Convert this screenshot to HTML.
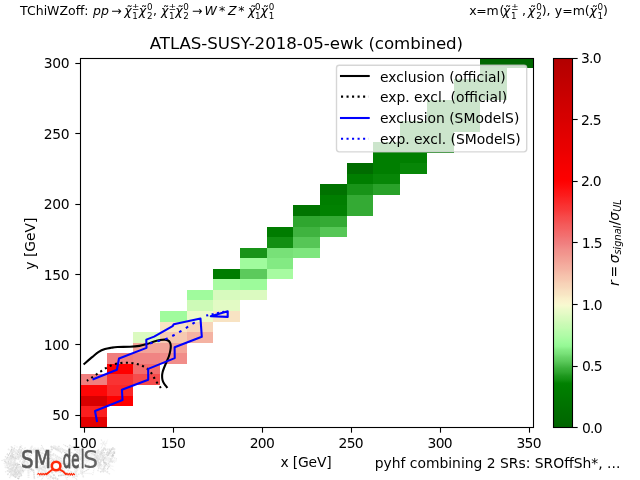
<!DOCTYPE html>
<html lang="en"><head><meta charset="utf-8"><title>ATLAS-SUSY-2018-05-ewk (combined) validation</title>
<style>html,body{margin:0;padding:0;background:#fff;overflow:hidden}svg{display:block}text{font-family:'DejaVu Sans','Liberation Sans',sans-serif;fill:#000}</style></head><body>
<svg width="640" height="480" viewBox="0 0 640 480">
<rect width="640" height="480" fill="#fff"/>
<g id="logo">
<g stroke-linecap="butt" fill="none">
<line x1="49.5" y1="462.2" x2="60.2" y2="462.0" stroke="#cdcdcd" stroke-width="1.3" stroke-dasharray="2.2 0.7"/>
<line x1="70.4" y1="447.5" x2="74.2" y2="447.2" stroke="#eeeeee" stroke-width="1.0" stroke-dasharray="1.9 0.6"/>
<line x1="54.0" y1="467.9" x2="55.8" y2="470.5" stroke="#e0e0e0" stroke-width="1.0" stroke-dasharray="1.1 0.5"/>
<line x1="52.1" y1="455.5" x2="60.1" y2="459.3" stroke="#f4f4f4" stroke-width="1.0" stroke-dasharray="2.0 0.7"/>
<line x1="81.0" y1="451.8" x2="83.9" y2="453.1" stroke="#e0e0e0" stroke-width="1.0" stroke-dasharray="1.6 0.9"/>
<line x1="46.2" y1="475.9" x2="49.2" y2="479.8" stroke="#f1f1f1" stroke-width="2.0" stroke-dasharray="1.6 0.8"/>
<line x1="49.0" y1="461.0" x2="53.7" y2="463.7" stroke="#f1f1f1" stroke-width="1.6" stroke-dasharray="1.5 1.0"/>
<line x1="11.6" y1="473.6" x2="13.4" y2="469.3" stroke="#e0e0e0" stroke-width="1.3" stroke-dasharray="2.5 0.9"/>
<line x1="48.8" y1="455.2" x2="53.7" y2="455.1" stroke="#e7e7e7" stroke-width="1.6" stroke-dasharray="2.5 0.4"/>
<line x1="69.7" y1="464.9" x2="72.4" y2="460.7" stroke="#e7e7e7" stroke-width="1.0" stroke-dasharray="2.2 0.6"/>
<line x1="12.7" y1="462.1" x2="18.7" y2="464.0" stroke="#e0e0e0" stroke-width="2.0" stroke-dasharray="1.2 0.8"/>
<line x1="43.5" y1="461.7" x2="51.9" y2="467.9" stroke="#ececec" stroke-width="1.3" stroke-dasharray="1.2 0.8"/>
<line x1="61.6" y1="466.7" x2="70.0" y2="467.6" stroke="#f4f4f4" stroke-width="1.0" stroke-dasharray="1.2 0.4"/>
<line x1="104.8" y1="449.8" x2="115.2" y2="449.1" stroke="#e0e0e0" stroke-width="2.0" stroke-dasharray="1.4 0.5"/>
<line x1="28.2" y1="463.4" x2="33.1" y2="460.8" stroke="#ececec" stroke-width="1.0" stroke-dasharray="1.1 0.6"/>
<line x1="36.0" y1="463.0" x2="36.9" y2="458.9" stroke="#f4f4f4" stroke-width="1.6" stroke-dasharray="2.0 0.8"/>
<line x1="103.0" y1="471.9" x2="105.6" y2="463.5" stroke="#f4f4f4" stroke-width="1.0" stroke-dasharray="2.1 0.6"/>
<line x1="62.6" y1="474.2" x2="67.3" y2="464.0" stroke="#e7e7e7" stroke-width="1.0" stroke-dasharray="2.0 0.9"/>
<line x1="98.0" y1="460.0" x2="102.2" y2="453.0" stroke="#e0e0e0" stroke-width="2.0" stroke-dasharray="1.6 0.4"/>
<line x1="15.2" y1="450.0" x2="21.7" y2="450.4" stroke="#eeeeee" stroke-width="2.0" stroke-dasharray="1.7 0.9"/>
<line x1="14.3" y1="471.4" x2="15.8" y2="467.9" stroke="#f1f1f1" stroke-width="1.3" stroke-dasharray="2.4 0.5"/>
<line x1="88.7" y1="466.2" x2="91.8" y2="466.0" stroke="#e7e7e7" stroke-width="1.3" stroke-dasharray="2.0 0.5"/>
<line x1="73.1" y1="455.8" x2="81.4" y2="459.2" stroke="#cdcdcd" stroke-width="2.0" stroke-dasharray="2.2 0.9"/>
<line x1="41.1" y1="480.5" x2="46.6" y2="470.3" stroke="#e7e7e7" stroke-width="1.3" stroke-dasharray="1.2 0.7"/>
<line x1="44.4" y1="456.1" x2="50.2" y2="465.0" stroke="#e0e0e0" stroke-width="2.0" stroke-dasharray="1.5 0.9"/>
<line x1="34.2" y1="460.4" x2="37.9" y2="467.6" stroke="#e7e7e7" stroke-width="1.0" stroke-dasharray="2.0 0.6"/>
<line x1="24.6" y1="469.5" x2="28.4" y2="471.3" stroke="#f1f1f1" stroke-width="1.0" stroke-dasharray="1.7 0.8"/>
<line x1="75.4" y1="473.9" x2="78.0" y2="469.9" stroke="#f4f4f4" stroke-width="1.6" stroke-dasharray="1.3 0.4"/>
<line x1="55.7" y1="473.0" x2="58.3" y2="463.4" stroke="#e0e0e0" stroke-width="1.3" stroke-dasharray="1.6 0.9"/>
<line x1="100.4" y1="443.8" x2="107.4" y2="443.1" stroke="#eeeeee" stroke-width="1.0" stroke-dasharray="1.6 0.7"/>
<line x1="107.2" y1="456.5" x2="108.7" y2="460.1" stroke="#eeeeee" stroke-width="1.0" stroke-dasharray="1.3 0.9"/>
<line x1="59.9" y1="468.8" x2="68.0" y2="473.7" stroke="#f1f1f1" stroke-width="1.6" stroke-dasharray="1.8 0.4"/>
<line x1="41.5" y1="455.8" x2="44.4" y2="457.5" stroke="#f1f1f1" stroke-width="2.0" stroke-dasharray="2.2 0.5"/>
<line x1="40.2" y1="476.8" x2="44.2" y2="465.5" stroke="#eeeeee" stroke-width="2.0" stroke-dasharray="2.4 0.7"/>
<line x1="26.6" y1="458.5" x2="33.2" y2="463.1" stroke="#ececec" stroke-width="1.6" stroke-dasharray="1.5 0.6"/>
<line x1="28.5" y1="469.5" x2="28.5" y2="477.7" stroke="#ececec" stroke-width="2.0" stroke-dasharray="1.8 0.7"/>
<line x1="104.7" y1="460.3" x2="116.6" y2="460.5" stroke="#f1f1f1" stroke-width="2.0" stroke-dasharray="1.1 0.5"/>
<line x1="102.9" y1="458.4" x2="110.2" y2="457.9" stroke="#ececec" stroke-width="1.6" stroke-dasharray="1.7 0.9"/>
<line x1="100.3" y1="457.2" x2="106.2" y2="460.5" stroke="#f1f1f1" stroke-width="1.6" stroke-dasharray="1.2 0.9"/>
<line x1="28.5" y1="465.5" x2="32.6" y2="468.8" stroke="#f4f4f4" stroke-width="1.0" stroke-dasharray="1.7 0.7"/>
<line x1="93.2" y1="462.1" x2="102.8" y2="467.2" stroke="#f1f1f1" stroke-width="2.0" stroke-dasharray="1.9 0.9"/>
<line x1="71.3" y1="459.1" x2="73.7" y2="463.4" stroke="#ececec" stroke-width="1.3" stroke-dasharray="1.3 0.8"/>
<line x1="34.5" y1="450.3" x2="45.7" y2="454.5" stroke="#f1f1f1" stroke-width="1.3" stroke-dasharray="2.3 0.5"/>
<line x1="12.1" y1="455.0" x2="18.9" y2="455.6" stroke="#eeeeee" stroke-width="1.3" stroke-dasharray="1.3 0.8"/>
<line x1="64.2" y1="452.3" x2="70.9" y2="455.9" stroke="#cdcdcd" stroke-width="1.3" stroke-dasharray="2.2 0.7"/>
<line x1="5.1" y1="472.1" x2="12.1" y2="468.1" stroke="#ececec" stroke-width="1.3" stroke-dasharray="1.3 0.5"/>
<line x1="104.6" y1="448.1" x2="107.6" y2="439.5" stroke="#f1f1f1" stroke-width="1.0" stroke-dasharray="1.5 0.7"/>
<line x1="58.0" y1="459.3" x2="65.3" y2="454.7" stroke="#f1f1f1" stroke-width="1.3" stroke-dasharray="1.3 0.7"/>
<line x1="84.1" y1="455.1" x2="87.6" y2="456.9" stroke="#f1f1f1" stroke-width="1.6" stroke-dasharray="2.3 0.9"/>
<line x1="80.5" y1="470.3" x2="83.7" y2="477.7" stroke="#ececec" stroke-width="1.6" stroke-dasharray="2.2 0.6"/>
<line x1="103.0" y1="472.4" x2="105.8" y2="466.4" stroke="#e7e7e7" stroke-width="1.6" stroke-dasharray="2.2 0.9"/>
<line x1="48.2" y1="470.9" x2="51.4" y2="466.2" stroke="#f1f1f1" stroke-width="1.0" stroke-dasharray="2.3 1.0"/>
<line x1="34.4" y1="448.5" x2="42.2" y2="448.6" stroke="#f4f4f4" stroke-width="2.0" stroke-dasharray="2.0 0.8"/>
<line x1="5.4" y1="463.1" x2="11.5" y2="465.5" stroke="#f1f1f1" stroke-width="1.3" stroke-dasharray="2.0 0.4"/>
<line x1="30.9" y1="448.7" x2="37.0" y2="453.1" stroke="#e0e0e0" stroke-width="1.0" stroke-dasharray="2.0 0.9"/>
<line x1="12.0" y1="468.9" x2="16.5" y2="458.3" stroke="#f4f4f4" stroke-width="2.0" stroke-dasharray="2.5 0.9"/>
<line x1="61.2" y1="463.1" x2="67.9" y2="464.0" stroke="#e0e0e0" stroke-width="2.0" stroke-dasharray="1.9 0.6"/>
<line x1="37.4" y1="461.4" x2="36.3" y2="470.3" stroke="#eeeeee" stroke-width="1.6" stroke-dasharray="1.0 0.9"/>
<line x1="66.0" y1="464.8" x2="72.5" y2="465.2" stroke="#e7e7e7" stroke-width="2.0" stroke-dasharray="1.1 1.0"/>
<line x1="98.9" y1="457.3" x2="108.7" y2="456.6" stroke="#f1f1f1" stroke-width="1.0" stroke-dasharray="2.4 0.8"/>
<line x1="54.8" y1="477.8" x2="58.4" y2="479.6" stroke="#e0e0e0" stroke-width="2.0" stroke-dasharray="1.7 0.5"/>
<line x1="10.6" y1="462.7" x2="12.6" y2="459.0" stroke="#f4f4f4" stroke-width="2.0" stroke-dasharray="1.9 0.8"/>
<line x1="79.8" y1="452.3" x2="79.5" y2="456.5" stroke="#e7e7e7" stroke-width="1.3" stroke-dasharray="1.4 0.5"/>
<line x1="99.9" y1="472.1" x2="104.9" y2="469.8" stroke="#e0e0e0" stroke-width="1.3" stroke-dasharray="1.9 0.9"/>
<line x1="10.9" y1="450.9" x2="14.2" y2="450.5" stroke="#ececec" stroke-width="1.6" stroke-dasharray="1.1 0.5"/>
<line x1="77.6" y1="458.3" x2="80.4" y2="465.2" stroke="#e7e7e7" stroke-width="1.3" stroke-dasharray="1.5 0.7"/>
<line x1="17.9" y1="478.9" x2="22.9" y2="469.8" stroke="#cdcdcd" stroke-width="2.0" stroke-dasharray="1.6 0.6"/>
<line x1="91.7" y1="450.8" x2="95.2" y2="458.4" stroke="#e7e7e7" stroke-width="1.3" stroke-dasharray="1.6 0.6"/>
<line x1="14.7" y1="477.5" x2="18.2" y2="471.6" stroke="#e0e0e0" stroke-width="2.0" stroke-dasharray="2.2 0.7"/>
<line x1="37.2" y1="477.7" x2="41.8" y2="474.3" stroke="#eeeeee" stroke-width="1.6" stroke-dasharray="1.4 0.5"/>
<line x1="42.4" y1="466.7" x2="46.9" y2="470.6" stroke="#f4f4f4" stroke-width="1.6" stroke-dasharray="1.7 0.9"/>
<line x1="34.2" y1="451.9" x2="43.7" y2="453.2" stroke="#e0e0e0" stroke-width="1.3" stroke-dasharray="1.1 0.9"/>
<line x1="6.6" y1="468.0" x2="10.6" y2="465.5" stroke="#e0e0e0" stroke-width="1.6" stroke-dasharray="2.2 0.7"/>
<line x1="95.5" y1="465.7" x2="97.2" y2="458.8" stroke="#e7e7e7" stroke-width="1.0" stroke-dasharray="1.3 0.4"/>
<line x1="20.8" y1="456.2" x2="25.5" y2="447.1" stroke="#f1f1f1" stroke-width="1.6" stroke-dasharray="2.2 0.5"/>
<line x1="11.0" y1="467.0" x2="18.7" y2="471.2" stroke="#ececec" stroke-width="1.0" stroke-dasharray="2.1 0.8"/>
<line x1="85.6" y1="460.7" x2="91.7" y2="460.5" stroke="#e7e7e7" stroke-width="1.3" stroke-dasharray="1.7 0.7"/>
<line x1="81.8" y1="472.8" x2="85.9" y2="463.2" stroke="#eeeeee" stroke-width="1.6" stroke-dasharray="2.3 0.9"/>
<line x1="109.4" y1="463.7" x2="109.5" y2="466.8" stroke="#f1f1f1" stroke-width="2.0" stroke-dasharray="2.4 0.9"/>
<line x1="71.7" y1="465.3" x2="77.5" y2="468.7" stroke="#e7e7e7" stroke-width="1.6" stroke-dasharray="2.5 0.4"/>
<line x1="73.8" y1="475.0" x2="78.2" y2="466.3" stroke="#f1f1f1" stroke-width="2.0" stroke-dasharray="2.4 0.4"/>
<line x1="14.0" y1="445.4" x2="21.5" y2="449.2" stroke="#f4f4f4" stroke-width="1.3" stroke-dasharray="1.7 0.9"/>
<line x1="44.6" y1="472.9" x2="54.3" y2="479.0" stroke="#e0e0e0" stroke-width="2.0" stroke-dasharray="2.3 0.7"/>
<line x1="46.6" y1="472.7" x2="52.3" y2="482.8" stroke="#f4f4f4" stroke-width="1.3" stroke-dasharray="1.6 0.5"/>
<line x1="20.9" y1="466.6" x2="20.1" y2="476.5" stroke="#f1f1f1" stroke-width="1.3" stroke-dasharray="2.3 0.9"/>
<line x1="100.0" y1="455.8" x2="107.5" y2="459.8" stroke="#ececec" stroke-width="2.0" stroke-dasharray="1.2 0.6"/>
<line x1="33.5" y1="469.5" x2="34.5" y2="479.1" stroke="#e0e0e0" stroke-width="1.6" stroke-dasharray="1.8 0.4"/>
<line x1="63.2" y1="444.4" x2="72.4" y2="449.7" stroke="#ececec" stroke-width="1.0" stroke-dasharray="1.5 0.8"/>
<line x1="58.2" y1="475.7" x2="67.9" y2="474.6" stroke="#cdcdcd" stroke-width="1.6" stroke-dasharray="1.0 0.5"/>
<line x1="22.9" y1="467.3" x2="30.8" y2="466.6" stroke="#e0e0e0" stroke-width="2.0" stroke-dasharray="1.2 0.9"/>
<line x1="36.6" y1="457.4" x2="42.7" y2="447.1" stroke="#eeeeee" stroke-width="1.0" stroke-dasharray="1.5 0.8"/>
<line x1="12.4" y1="455.2" x2="22.4" y2="455.9" stroke="#f1f1f1" stroke-width="2.0" stroke-dasharray="1.0 0.6"/>
<line x1="78.7" y1="452.3" x2="86.7" y2="446.4" stroke="#eeeeee" stroke-width="1.3" stroke-dasharray="2.4 0.5"/>
<line x1="69.9" y1="474.1" x2="77.7" y2="480.0" stroke="#e0e0e0" stroke-width="1.0" stroke-dasharray="1.4 0.5"/>
<line x1="80.9" y1="450.6" x2="89.1" y2="455.5" stroke="#e7e7e7" stroke-width="2.0" stroke-dasharray="2.2 0.5"/>
<line x1="78.8" y1="469.6" x2="79.6" y2="466.4" stroke="#f4f4f4" stroke-width="1.0" stroke-dasharray="1.2 0.4"/>
<line x1="110.2" y1="461.8" x2="115.0" y2="452.5" stroke="#e0e0e0" stroke-width="1.3" stroke-dasharray="2.0 0.9"/>
<line x1="91.5" y1="452.4" x2="97.9" y2="458.1" stroke="#eeeeee" stroke-width="2.0" stroke-dasharray="1.9 0.6"/>
<line x1="109.7" y1="459.5" x2="115.1" y2="462.3" stroke="#eeeeee" stroke-width="2.0" stroke-dasharray="1.2 0.6"/>
<line x1="59.8" y1="473.0" x2="62.2" y2="469.3" stroke="#e0e0e0" stroke-width="1.6" stroke-dasharray="1.8 0.6"/>
<line x1="60.3" y1="467.5" x2="63.2" y2="469.0" stroke="#eeeeee" stroke-width="1.3" stroke-dasharray="2.2 0.5"/>
<line x1="52.8" y1="453.5" x2="62.4" y2="459.5" stroke="#e7e7e7" stroke-width="1.6" stroke-dasharray="1.7 0.5"/>
<line x1="103.0" y1="455.9" x2="104.3" y2="467.0" stroke="#ececec" stroke-width="1.6" stroke-dasharray="1.9 0.5"/>
<line x1="101.0" y1="450.7" x2="104.8" y2="448.3" stroke="#e0e0e0" stroke-width="1.0" stroke-dasharray="1.7 0.6"/>
<line x1="83.3" y1="473.3" x2="92.0" y2="473.6" stroke="#f1f1f1" stroke-width="1.3" stroke-dasharray="1.3 0.7"/>
<line x1="18.9" y1="456.8" x2="24.0" y2="453.7" stroke="#ececec" stroke-width="1.6" stroke-dasharray="1.4 1.0"/>
<line x1="10.4" y1="468.0" x2="13.2" y2="474.0" stroke="#f4f4f4" stroke-width="1.0" stroke-dasharray="1.7 0.6"/>
<line x1="69.7" y1="467.0" x2="77.0" y2="467.5" stroke="#f4f4f4" stroke-width="2.0" stroke-dasharray="2.2 0.5"/>
<line x1="38.8" y1="460.2" x2="44.6" y2="460.9" stroke="#f1f1f1" stroke-width="1.6" stroke-dasharray="2.1 0.9"/>
<line x1="80.7" y1="460.4" x2="89.5" y2="466.8" stroke="#ececec" stroke-width="1.0" stroke-dasharray="2.3 0.5"/>
<line x1="102.9" y1="459.3" x2="105.6" y2="463.7" stroke="#cdcdcd" stroke-width="1.6" stroke-dasharray="2.3 0.7"/>
<line x1="84.6" y1="467.0" x2="88.7" y2="457.7" stroke="#f1f1f1" stroke-width="2.0" stroke-dasharray="1.0 0.5"/>
<line x1="36.6" y1="455.9" x2="40.0" y2="449.7" stroke="#e0e0e0" stroke-width="2.0" stroke-dasharray="1.2 0.8"/>
<line x1="28.1" y1="451.8" x2="33.8" y2="452.4" stroke="#f4f4f4" stroke-width="1.3" stroke-dasharray="2.4 1.0"/>
<line x1="53.3" y1="445.5" x2="60.8" y2="450.9" stroke="#f1f1f1" stroke-width="1.3" stroke-dasharray="1.5 0.9"/>
<line x1="74.3" y1="463.2" x2="75.0" y2="471.9" stroke="#ececec" stroke-width="1.0" stroke-dasharray="2.0 0.6"/>
<line x1="33.8" y1="462.1" x2="37.3" y2="451.1" stroke="#f4f4f4" stroke-width="2.0" stroke-dasharray="1.1 0.5"/>
<line x1="34.8" y1="466.3" x2="43.6" y2="469.8" stroke="#e0e0e0" stroke-width="1.6" stroke-dasharray="2.2 0.6"/>
<line x1="72.4" y1="477.9" x2="82.6" y2="472.0" stroke="#ececec" stroke-width="1.3" stroke-dasharray="1.4 0.8"/>
<line x1="53.7" y1="459.3" x2="53.4" y2="462.4" stroke="#e0e0e0" stroke-width="1.6" stroke-dasharray="1.8 0.7"/>
<line x1="64.8" y1="445.5" x2="70.0" y2="447.5" stroke="#e0e0e0" stroke-width="1.0" stroke-dasharray="1.3 0.9"/>
<line x1="50.4" y1="470.4" x2="61.3" y2="468.9" stroke="#f1f1f1" stroke-width="1.3" stroke-dasharray="1.1 0.9"/>
<line x1="100.4" y1="452.4" x2="108.1" y2="453.0" stroke="#e0e0e0" stroke-width="1.3" stroke-dasharray="1.9 0.9"/>
<line x1="15.5" y1="452.9" x2="20.7" y2="461.5" stroke="#eeeeee" stroke-width="1.3" stroke-dasharray="1.4 0.7"/>
<line x1="94.2" y1="462.2" x2="101.9" y2="465.4" stroke="#eeeeee" stroke-width="1.0" stroke-dasharray="1.9 0.9"/>
<line x1="3.2" y1="459.6" x2="12.7" y2="459.6" stroke="#f1f1f1" stroke-width="1.0" stroke-dasharray="1.2 0.5"/>
<line x1="73.6" y1="462.1" x2="76.7" y2="463.7" stroke="#f4f4f4" stroke-width="1.0" stroke-dasharray="2.0 0.9"/>
<line x1="81.9" y1="473.1" x2="89.6" y2="468.6" stroke="#e0e0e0" stroke-width="1.3" stroke-dasharray="1.6 0.5"/>
<line x1="58.1" y1="466.8" x2="61.3" y2="465.3" stroke="#f4f4f4" stroke-width="2.0" stroke-dasharray="1.5 0.5"/>
<line x1="58.0" y1="473.5" x2="59.7" y2="466.6" stroke="#eeeeee" stroke-width="1.0" stroke-dasharray="1.0 0.6"/>
<line x1="63.3" y1="462.3" x2="68.8" y2="455.0" stroke="#eeeeee" stroke-width="1.3" stroke-dasharray="1.4 0.5"/>
<line x1="96.5" y1="459.0" x2="100.3" y2="454.0" stroke="#e7e7e7" stroke-width="1.3" stroke-dasharray="1.1 0.6"/>
<line x1="41.0" y1="468.3" x2="45.2" y2="466.5" stroke="#cdcdcd" stroke-width="1.3" stroke-dasharray="1.6 0.9"/>
<line x1="27.1" y1="458.4" x2="31.4" y2="449.1" stroke="#f4f4f4" stroke-width="1.3" stroke-dasharray="1.6 0.8"/>
<line x1="83.5" y1="458.0" x2="92.5" y2="459.3" stroke="#f4f4f4" stroke-width="1.3" stroke-dasharray="1.8 0.7"/>
<line x1="7.8" y1="448.9" x2="14.3" y2="453.0" stroke="#eeeeee" stroke-width="1.6" stroke-dasharray="1.8 0.7"/>
<line x1="75.1" y1="450.5" x2="77.2" y2="446.7" stroke="#e7e7e7" stroke-width="1.3" stroke-dasharray="2.1 0.8"/>
<line x1="38.9" y1="457.8" x2="42.7" y2="452.6" stroke="#e7e7e7" stroke-width="1.0" stroke-dasharray="1.5 0.8"/>
<line x1="58.8" y1="445.8" x2="58.7" y2="449.1" stroke="#e7e7e7" stroke-width="2.0" stroke-dasharray="1.6 0.7"/>
<line x1="17.5" y1="466.3" x2="23.8" y2="469.5" stroke="#f4f4f4" stroke-width="1.3" stroke-dasharray="2.3 0.9"/>
<line x1="62.1" y1="462.9" x2="65.5" y2="452.6" stroke="#ececec" stroke-width="1.0" stroke-dasharray="1.4 0.6"/>
<line x1="4.8" y1="467.9" x2="12.5" y2="461.9" stroke="#eeeeee" stroke-width="1.6" stroke-dasharray="2.0 0.4"/>
<line x1="93.5" y1="458.5" x2="102.7" y2="465.6" stroke="#e7e7e7" stroke-width="1.3" stroke-dasharray="2.2 0.6"/>
<line x1="55.3" y1="456.9" x2="63.2" y2="461.8" stroke="#ececec" stroke-width="1.3" stroke-dasharray="2.4 0.5"/>
<line x1="84.6" y1="451.8" x2="93.4" y2="455.9" stroke="#f4f4f4" stroke-width="1.3" stroke-dasharray="1.7 0.6"/>
<line x1="97.1" y1="453.9" x2="99.2" y2="450.4" stroke="#f1f1f1" stroke-width="2.0" stroke-dasharray="1.4 0.6"/>
<line x1="96.1" y1="450.6" x2="98.8" y2="453.1" stroke="#f1f1f1" stroke-width="1.6" stroke-dasharray="1.5 0.6"/>
<line x1="36.9" y1="475.2" x2="39.3" y2="469.2" stroke="#e7e7e7" stroke-width="1.6" stroke-dasharray="1.0 0.8"/>
<line x1="8.8" y1="462.9" x2="13.5" y2="460.0" stroke="#f4f4f4" stroke-width="2.0" stroke-dasharray="1.6 0.9"/>
<line x1="59.5" y1="451.3" x2="62.1" y2="453.1" stroke="#e0e0e0" stroke-width="1.3" stroke-dasharray="1.4 0.6"/>
<line x1="30.0" y1="459.1" x2="29.6" y2="462.1" stroke="#e0e0e0" stroke-width="2.0" stroke-dasharray="2.3 0.9"/>
<line x1="12.9" y1="471.5" x2="16.2" y2="473.5" stroke="#f1f1f1" stroke-width="1.6" stroke-dasharray="2.2 0.5"/>
<line x1="39.2" y1="469.1" x2="44.8" y2="465.4" stroke="#e7e7e7" stroke-width="2.0" stroke-dasharray="1.4 0.5"/>
<line x1="14.8" y1="470.9" x2="19.3" y2="464.7" stroke="#eeeeee" stroke-width="2.0" stroke-dasharray="1.1 0.8"/>
<line x1="47.3" y1="457.1" x2="53.8" y2="461.0" stroke="#cdcdcd" stroke-width="2.0" stroke-dasharray="1.4 0.8"/>
<line x1="44.2" y1="471.7" x2="47.2" y2="462.3" stroke="#e0e0e0" stroke-width="1.3" stroke-dasharray="1.9 0.7"/>
<line x1="80.7" y1="463.4" x2="84.0" y2="465.8" stroke="#f4f4f4" stroke-width="1.6" stroke-dasharray="1.3 0.5"/>
<line x1="6.7" y1="465.7" x2="8.2" y2="460.5" stroke="#e7e7e7" stroke-width="2.0" stroke-dasharray="1.6 0.8"/>
<line x1="27.2" y1="452.1" x2="26.7" y2="456.1" stroke="#e7e7e7" stroke-width="1.0" stroke-dasharray="2.2 0.9"/>
<line x1="51.6" y1="471.6" x2="55.2" y2="477.1" stroke="#e0e0e0" stroke-width="2.0" stroke-dasharray="2.1 1.0"/>
<line x1="47.7" y1="462.0" x2="48.4" y2="472.8" stroke="#f4f4f4" stroke-width="1.3" stroke-dasharray="2.3 0.7"/>
<line x1="98.0" y1="453.2" x2="105.0" y2="448.2" stroke="#e7e7e7" stroke-width="1.6" stroke-dasharray="1.3 0.7"/>
<line x1="45.0" y1="451.7" x2="46.0" y2="448.8" stroke="#e7e7e7" stroke-width="1.0" stroke-dasharray="1.0 0.6"/>
<line x1="17.7" y1="471.2" x2="24.5" y2="471.2" stroke="#e0e0e0" stroke-width="2.0" stroke-dasharray="1.8 0.5"/>
<line x1="67.5" y1="470.1" x2="77.7" y2="475.2" stroke="#ececec" stroke-width="2.0" stroke-dasharray="1.9 1.0"/>
<line x1="9.5" y1="478.1" x2="12.7" y2="469.6" stroke="#e7e7e7" stroke-width="1.6" stroke-dasharray="1.0 0.7"/>
<line x1="9.8" y1="457.4" x2="15.8" y2="459.4" stroke="#e0e0e0" stroke-width="1.6" stroke-dasharray="2.2 0.9"/>
<line x1="85.9" y1="450.8" x2="85.0" y2="460.7" stroke="#f1f1f1" stroke-width="2.0" stroke-dasharray="1.6 0.8"/>
<line x1="4.1" y1="461.0" x2="12.9" y2="464.6" stroke="#e0e0e0" stroke-width="1.6" stroke-dasharray="2.2 0.6"/>
<line x1="70.8" y1="452.2" x2="79.0" y2="455.7" stroke="#e0e0e0" stroke-width="1.0" stroke-dasharray="1.4 0.5"/>
<line x1="18.3" y1="451.4" x2="22.0" y2="452.7" stroke="#ececec" stroke-width="1.6" stroke-dasharray="1.5 0.7"/>
<line x1="1.3" y1="460.5" x2="12.8" y2="459.2" stroke="#ececec" stroke-width="1.0" stroke-dasharray="2.3 0.6"/>
<line x1="108.1" y1="454.9" x2="117.2" y2="459.1" stroke="#ececec" stroke-width="1.6" stroke-dasharray="1.1 0.6"/>
<line x1="88.5" y1="464.9" x2="91.4" y2="456.6" stroke="#f4f4f4" stroke-width="1.0" stroke-dasharray="1.3 0.8"/>
<line x1="72.0" y1="460.7" x2="75.8" y2="459.1" stroke="#eeeeee" stroke-width="2.0" stroke-dasharray="1.7 0.7"/>
<line x1="92.3" y1="459.7" x2="100.4" y2="459.9" stroke="#e0e0e0" stroke-width="1.0" stroke-dasharray="1.8 0.7"/>
<line x1="11.8" y1="446.9" x2="11.9" y2="458.8" stroke="#cdcdcd" stroke-width="1.6" stroke-dasharray="1.3 0.7"/>
<line x1="101.0" y1="448.4" x2="104.8" y2="440.4" stroke="#ececec" stroke-width="1.0" stroke-dasharray="2.2 0.7"/>
<line x1="97.3" y1="466.6" x2="102.6" y2="469.7" stroke="#ececec" stroke-width="1.0" stroke-dasharray="2.3 0.5"/>
<line x1="34.8" y1="468.6" x2="37.6" y2="462.2" stroke="#f4f4f4" stroke-width="1.3" stroke-dasharray="1.1 0.7"/>
<line x1="10.8" y1="476.2" x2="13.3" y2="472.6" stroke="#e7e7e7" stroke-width="1.3" stroke-dasharray="1.2 0.4"/>
<line x1="41.2" y1="473.2" x2="45.5" y2="475.1" stroke="#f4f4f4" stroke-width="1.0" stroke-dasharray="2.3 0.8"/>
<line x1="100.9" y1="439.3" x2="105.9" y2="446.4" stroke="#eeeeee" stroke-width="1.3" stroke-dasharray="1.8 1.0"/>
<line x1="42.5" y1="468.5" x2="51.2" y2="476.0" stroke="#eeeeee" stroke-width="1.3" stroke-dasharray="2.0 0.5"/>
<line x1="17.1" y1="467.8" x2="22.6" y2="467.1" stroke="#e7e7e7" stroke-width="1.6" stroke-dasharray="1.9 0.6"/>
<line x1="76.9" y1="465.8" x2="84.4" y2="472.3" stroke="#ececec" stroke-width="1.3" stroke-dasharray="1.1 0.6"/>
<line x1="43.2" y1="462.4" x2="49.8" y2="466.1" stroke="#f1f1f1" stroke-width="1.6" stroke-dasharray="1.8 0.7"/>
<line x1="17.4" y1="477.6" x2="21.2" y2="471.7" stroke="#f4f4f4" stroke-width="2.0" stroke-dasharray="1.3 0.6"/>
<line x1="27.5" y1="463.7" x2="32.1" y2="466.8" stroke="#f4f4f4" stroke-width="1.6" stroke-dasharray="1.4 0.8"/>
<line x1="74.4" y1="449.8" x2="82.8" y2="449.5" stroke="#e7e7e7" stroke-width="2.0" stroke-dasharray="1.6 0.6"/>
<line x1="68.6" y1="463.7" x2="71.0" y2="459.4" stroke="#e7e7e7" stroke-width="1.0" stroke-dasharray="1.6 0.8"/>
<line x1="77.2" y1="455.5" x2="79.3" y2="451.6" stroke="#f1f1f1" stroke-width="1.6" stroke-dasharray="1.3 0.7"/>
<line x1="54.6" y1="470.7" x2="61.0" y2="460.8" stroke="#f4f4f4" stroke-width="2.0" stroke-dasharray="2.2 0.8"/>
<line x1="7.5" y1="457.8" x2="18.9" y2="458.7" stroke="#e0e0e0" stroke-width="1.3" stroke-dasharray="1.7 0.9"/>
<line x1="104.6" y1="464.3" x2="114.4" y2="470.6" stroke="#f4f4f4" stroke-width="1.0" stroke-dasharray="1.6 0.5"/>
<line x1="45.0" y1="457.6" x2="47.1" y2="451.3" stroke="#e0e0e0" stroke-width="1.0" stroke-dasharray="2.2 0.5"/>
<line x1="11.0" y1="446.3" x2="15.6" y2="452.5" stroke="#e7e7e7" stroke-width="1.6" stroke-dasharray="2.2 0.5"/>
<line x1="29.3" y1="455.7" x2="29.7" y2="459.9" stroke="#f1f1f1" stroke-width="1.3" stroke-dasharray="1.2 0.7"/>
<line x1="24.0" y1="465.8" x2="25.5" y2="463.1" stroke="#cdcdcd" stroke-width="1.0" stroke-dasharray="2.1 0.8"/>
<line x1="21.4" y1="464.4" x2="24.4" y2="457.6" stroke="#e0e0e0" stroke-width="1.0" stroke-dasharray="1.6 0.6"/>
<line x1="28.0" y1="458.5" x2="30.4" y2="463.9" stroke="#f4f4f4" stroke-width="1.3" stroke-dasharray="2.0 0.9"/>
<line x1="108.4" y1="460.5" x2="108.0" y2="464.4" stroke="#eeeeee" stroke-width="1.6" stroke-dasharray="1.4 0.8"/>
<line x1="89.7" y1="452.2" x2="93.3" y2="458.2" stroke="#f1f1f1" stroke-width="1.6" stroke-dasharray="2.3 0.4"/>
<line x1="58.5" y1="461.2" x2="67.5" y2="462.0" stroke="#eeeeee" stroke-width="1.6" stroke-dasharray="1.0 0.6"/>
<line x1="108.7" y1="459.0" x2="108.7" y2="462.1" stroke="#f4f4f4" stroke-width="1.0" stroke-dasharray="1.0 0.8"/>
<line x1="105.1" y1="456.8" x2="114.5" y2="452.1" stroke="#ececec" stroke-width="1.0" stroke-dasharray="1.5 0.7"/>
<line x1="60.5" y1="471.9" x2="63.0" y2="467.7" stroke="#e0e0e0" stroke-width="1.6" stroke-dasharray="2.2 1.0"/>
<line x1="73.9" y1="458.8" x2="77.9" y2="450.7" stroke="#f1f1f1" stroke-width="2.0" stroke-dasharray="2.5 0.9"/>
<line x1="39.6" y1="456.5" x2="43.3" y2="448.5" stroke="#f1f1f1" stroke-width="2.0" stroke-dasharray="1.1 0.8"/>
<line x1="63.7" y1="472.8" x2="67.5" y2="480.5" stroke="#eeeeee" stroke-width="1.3" stroke-dasharray="1.9 0.4"/>
<line x1="83.0" y1="451.6" x2="88.2" y2="461.5" stroke="#f1f1f1" stroke-width="1.3" stroke-dasharray="2.2 0.7"/>
<line x1="82.1" y1="454.7" x2="92.3" y2="455.2" stroke="#f4f4f4" stroke-width="1.6" stroke-dasharray="2.3 0.8"/>
<line x1="42.6" y1="475.6" x2="46.2" y2="470.1" stroke="#eeeeee" stroke-width="1.0" stroke-dasharray="2.4 0.5"/>
<line x1="49.7" y1="463.7" x2="51.9" y2="458.7" stroke="#f4f4f4" stroke-width="1.0" stroke-dasharray="2.3 1.0"/>
<line x1="23.0" y1="467.8" x2="32.2" y2="467.8" stroke="#f4f4f4" stroke-width="2.0" stroke-dasharray="1.2 0.8"/>
<line x1="19.0" y1="461.6" x2="29.0" y2="464.7" stroke="#eeeeee" stroke-width="1.6" stroke-dasharray="1.6 0.9"/>
<line x1="77.0" y1="459.2" x2="82.7" y2="456.6" stroke="#e0e0e0" stroke-width="1.3" stroke-dasharray="1.7 1.0"/>
<line x1="38.7" y1="466.1" x2="44.2" y2="469.0" stroke="#f4f4f4" stroke-width="1.0" stroke-dasharray="1.4 0.4"/>
<line x1="91.2" y1="453.2" x2="99.0" y2="456.6" stroke="#e0e0e0" stroke-width="1.3" stroke-dasharray="2.5 0.9"/>
<line x1="51.2" y1="457.8" x2="59.3" y2="460.7" stroke="#eeeeee" stroke-width="1.6" stroke-dasharray="1.8 0.5"/>
<line x1="112.2" y1="456.7" x2="114.4" y2="451.1" stroke="#cdcdcd" stroke-width="2.0" stroke-dasharray="2.4 0.9"/>
<line x1="25.6" y1="462.3" x2="29.4" y2="459.9" stroke="#ececec" stroke-width="1.3" stroke-dasharray="2.3 1.0"/>
<line x1="76.0" y1="451.6" x2="84.9" y2="457.1" stroke="#e7e7e7" stroke-width="1.0" stroke-dasharray="1.4 0.4"/>
<line x1="60.4" y1="448.2" x2="67.6" y2="451.8" stroke="#e7e7e7" stroke-width="2.0" stroke-dasharray="1.1 0.4"/>
<line x1="22.9" y1="451.2" x2="22.0" y2="459.6" stroke="#e0e0e0" stroke-width="1.3" stroke-dasharray="1.8 0.8"/>
<line x1="102.2" y1="469.1" x2="108.3" y2="472.2" stroke="#e7e7e7" stroke-width="1.3" stroke-dasharray="1.7 0.8"/>
<line x1="41.3" y1="445.0" x2="45.3" y2="452.0" stroke="#e7e7e7" stroke-width="1.3" stroke-dasharray="1.1 0.7"/>
<line x1="67.4" y1="478.0" x2="68.8" y2="475.3" stroke="#e0e0e0" stroke-width="1.0" stroke-dasharray="1.3 0.6"/>
<line x1="107.6" y1="470.2" x2="109.4" y2="462.3" stroke="#eeeeee" stroke-width="1.0" stroke-dasharray="1.7 0.8"/>
<line x1="13.2" y1="468.6" x2="17.4" y2="466.2" stroke="#eeeeee" stroke-width="1.0" stroke-dasharray="1.6 0.7"/>
<line x1="15.2" y1="453.7" x2="13.8" y2="464.7" stroke="#f1f1f1" stroke-width="1.3" stroke-dasharray="2.3 0.6"/>
<line x1="27.0" y1="455.9" x2="32.4" y2="445.6" stroke="#ececec" stroke-width="2.0" stroke-dasharray="2.4 0.4"/>
<line x1="56.2" y1="458.5" x2="61.6" y2="468.2" stroke="#e7e7e7" stroke-width="1.3" stroke-dasharray="1.1 0.7"/>
<line x1="17.2" y1="476.3" x2="18.9" y2="472.3" stroke="#ececec" stroke-width="1.0" stroke-dasharray="1.0 0.4"/>
<line x1="93.2" y1="454.4" x2="98.8" y2="457.8" stroke="#ececec" stroke-width="1.6" stroke-dasharray="1.1 0.6"/>
<line x1="82.0" y1="459.1" x2="86.2" y2="462.0" stroke="#f4f4f4" stroke-width="1.3" stroke-dasharray="1.3 0.5"/>
<line x1="50.8" y1="446.5" x2="58.7" y2="451.0" stroke="#e0e0e0" stroke-width="1.6" stroke-dasharray="1.9 0.7"/>
<line x1="56.6" y1="466.8" x2="65.5" y2="471.6" stroke="#e0e0e0" stroke-width="1.0" stroke-dasharray="1.1 0.9"/>
<line x1="44.1" y1="456.6" x2="48.0" y2="451.5" stroke="#ececec" stroke-width="2.0" stroke-dasharray="2.2 0.9"/>
<line x1="38.5" y1="470.8" x2="46.5" y2="471.7" stroke="#eeeeee" stroke-width="1.0" stroke-dasharray="1.7 0.9"/>
<line x1="4.1" y1="459.3" x2="10.9" y2="460.1" stroke="#ececec" stroke-width="1.3" stroke-dasharray="1.1 0.5"/>
<line x1="54.4" y1="445.9" x2="64.0" y2="452.0" stroke="#ececec" stroke-width="1.6" stroke-dasharray="2.4 0.5"/>
<line x1="19.0" y1="464.1" x2="22.3" y2="469.5" stroke="#cdcdcd" stroke-width="1.6" stroke-dasharray="1.2 0.9"/>
<line x1="37.3" y1="461.0" x2="44.1" y2="465.0" stroke="#e0e0e0" stroke-width="2.0" stroke-dasharray="2.1 0.7"/>
<line x1="38.3" y1="468.1" x2="40.5" y2="472.0" stroke="#e7e7e7" stroke-width="1.0" stroke-dasharray="1.4 0.9"/>
<line x1="107.6" y1="459.5" x2="114.5" y2="456.8" stroke="#f1f1f1" stroke-width="1.3" stroke-dasharray="1.2 0.7"/>
<line x1="77.8" y1="458.2" x2="80.8" y2="456.4" stroke="#ececec" stroke-width="1.0" stroke-dasharray="1.3 0.8"/>
<line x1="27.9" y1="471.5" x2="31.5" y2="471.6" stroke="#f1f1f1" stroke-width="1.3" stroke-dasharray="1.5 0.5"/>
<line x1="106.9" y1="455.5" x2="115.0" y2="451.1" stroke="#e7e7e7" stroke-width="1.6" stroke-dasharray="1.2 0.5"/>
<line x1="65.0" y1="464.1" x2="72.1" y2="464.2" stroke="#e7e7e7" stroke-width="2.0" stroke-dasharray="1.4 1.0"/>
<line x1="18.8" y1="456.9" x2="28.3" y2="463.3" stroke="#e7e7e7" stroke-width="1.3" stroke-dasharray="1.8 0.6"/>
<line x1="79.1" y1="449.7" x2="84.6" y2="457.1" stroke="#e7e7e7" stroke-width="2.0" stroke-dasharray="1.8 0.7"/>
<line x1="101.2" y1="460.1" x2="110.1" y2="460.5" stroke="#f4f4f4" stroke-width="1.6" stroke-dasharray="1.7 0.9"/>
<line x1="37.8" y1="470.5" x2="43.2" y2="460.0" stroke="#e7e7e7" stroke-width="2.0" stroke-dasharray="1.1 0.6"/>
<line x1="8.8" y1="462.8" x2="14.1" y2="463.3" stroke="#eeeeee" stroke-width="1.0" stroke-dasharray="1.6 0.7"/>
<line x1="105.2" y1="459.6" x2="111.1" y2="459.1" stroke="#eeeeee" stroke-width="1.6" stroke-dasharray="2.4 0.8"/>
<line x1="76.0" y1="454.2" x2="84.9" y2="461.1" stroke="#eeeeee" stroke-width="1.3" stroke-dasharray="2.2 0.8"/>
<line x1="92.6" y1="475.2" x2="94.3" y2="468.1" stroke="#eeeeee" stroke-width="1.3" stroke-dasharray="1.1 0.9"/>
<line x1="105.0" y1="465.6" x2="113.5" y2="466.3" stroke="#f4f4f4" stroke-width="1.0" stroke-dasharray="2.5 0.5"/>
<line x1="31.7" y1="451.5" x2="36.4" y2="451.3" stroke="#eeeeee" stroke-width="1.6" stroke-dasharray="2.5 0.8"/>
<line x1="18.2" y1="471.8" x2="20.9" y2="465.7" stroke="#f4f4f4" stroke-width="1.0" stroke-dasharray="1.9 1.0"/>
<line x1="73.4" y1="459.3" x2="76.7" y2="459.5" stroke="#ececec" stroke-width="2.0" stroke-dasharray="2.2 0.5"/>
<line x1="75.6" y1="473.4" x2="77.6" y2="467.9" stroke="#e7e7e7" stroke-width="1.3" stroke-dasharray="1.0 0.6"/>
<line x1="3.7" y1="463.8" x2="14.0" y2="458.3" stroke="#f1f1f1" stroke-width="1.6" stroke-dasharray="1.2 0.5"/>
<line x1="14.4" y1="472.3" x2="18.5" y2="463.4" stroke="#cdcdcd" stroke-width="1.6" stroke-dasharray="1.3 0.7"/>
<line x1="29.4" y1="458.1" x2="34.7" y2="447.8" stroke="#e7e7e7" stroke-width="2.0" stroke-dasharray="1.3 1.0"/>
<line x1="9.6" y1="456.7" x2="19.5" y2="457.2" stroke="#e0e0e0" stroke-width="1.6" stroke-dasharray="1.9 0.7"/>
<line x1="69.0" y1="444.9" x2="75.8" y2="449.6" stroke="#e7e7e7" stroke-width="1.6" stroke-dasharray="2.2 0.8"/>
<line x1="76.5" y1="457.3" x2="88.0" y2="458.8" stroke="#ececec" stroke-width="1.6" stroke-dasharray="2.3 0.4"/>
<line x1="11.9" y1="451.7" x2="15.5" y2="449.6" stroke="#f4f4f4" stroke-width="2.0" stroke-dasharray="1.9 0.8"/>
<line x1="48.2" y1="462.6" x2="50.9" y2="468.7" stroke="#f1f1f1" stroke-width="1.3" stroke-dasharray="1.4 0.7"/>
<line x1="45.2" y1="454.9" x2="53.8" y2="455.4" stroke="#ececec" stroke-width="1.3" stroke-dasharray="2.3 0.7"/>
<line x1="67.8" y1="450.1" x2="71.2" y2="454.8" stroke="#ececec" stroke-width="2.0" stroke-dasharray="2.1 0.9"/>
<line x1="12.8" y1="449.2" x2="19.2" y2="451.9" stroke="#f4f4f4" stroke-width="2.0" stroke-dasharray="1.5 0.8"/>
<line x1="48.6" y1="455.2" x2="52.2" y2="448.8" stroke="#e0e0e0" stroke-width="2.0" stroke-dasharray="2.0 0.8"/>
<line x1="58.7" y1="471.4" x2="62.3" y2="471.8" stroke="#ececec" stroke-width="1.6" stroke-dasharray="1.3 0.8"/>
<line x1="50.6" y1="446.3" x2="59.6" y2="450.5" stroke="#e0e0e0" stroke-width="1.6" stroke-dasharray="1.8 0.6"/>
<line x1="92.5" y1="453.9" x2="101.0" y2="453.3" stroke="#ececec" stroke-width="2.0" stroke-dasharray="1.4 1.0"/>
<line x1="81.5" y1="457.0" x2="91.9" y2="457.2" stroke="#eeeeee" stroke-width="2.0" stroke-dasharray="1.1 1.0"/>
<line x1="80.8" y1="451.9" x2="85.1" y2="455.0" stroke="#eeeeee" stroke-width="2.0" stroke-dasharray="1.8 1.0"/>
<line x1="17.8" y1="468.4" x2="23.6" y2="473.3" stroke="#f1f1f1" stroke-width="1.6" stroke-dasharray="2.1 0.6"/>
<line x1="107.4" y1="449.6" x2="110.5" y2="456.3" stroke="#f4f4f4" stroke-width="1.6" stroke-dasharray="2.4 1.0"/>
<line x1="11.8" y1="454.3" x2="10.7" y2="462.3" stroke="#e7e7e7" stroke-width="1.6" stroke-dasharray="1.6 0.4"/>
<line x1="4.9" y1="466.4" x2="9.0" y2="456.8" stroke="#f4f4f4" stroke-width="1.6" stroke-dasharray="1.2 0.7"/>
<line x1="59.3" y1="461.2" x2="63.6" y2="461.4" stroke="#e7e7e7" stroke-width="1.3" stroke-dasharray="1.3 0.4"/>
<line x1="103.0" y1="467.5" x2="105.6" y2="462.8" stroke="#f4f4f4" stroke-width="1.0" stroke-dasharray="2.0 0.4"/>
<line x1="24.2" y1="464.9" x2="33.4" y2="470.7" stroke="#cdcdcd" stroke-width="2.0" stroke-dasharray="2.1 0.4"/>
<line x1="100.0" y1="468.0" x2="110.1" y2="474.3" stroke="#ececec" stroke-width="1.3" stroke-dasharray="1.9 0.6"/>
<line x1="73.6" y1="476.2" x2="78.2" y2="476.7" stroke="#ececec" stroke-width="1.3" stroke-dasharray="1.7 0.8"/>
<line x1="41.7" y1="468.8" x2="45.5" y2="472.1" stroke="#e7e7e7" stroke-width="1.0" stroke-dasharray="1.3 0.8"/>
<line x1="8.5" y1="471.2" x2="13.7" y2="463.7" stroke="#e0e0e0" stroke-width="1.0" stroke-dasharray="1.1 0.4"/>
<line x1="68.9" y1="476.8" x2="72.7" y2="471.3" stroke="#eeeeee" stroke-width="1.3" stroke-dasharray="1.8 0.4"/>
<line x1="21.3" y1="469.4" x2="23.7" y2="464.3" stroke="#e0e0e0" stroke-width="1.0" stroke-dasharray="1.5 0.6"/>
<line x1="30.0" y1="450.4" x2="35.8" y2="452.7" stroke="#f4f4f4" stroke-width="1.3" stroke-dasharray="1.4 0.5"/>
<line x1="97.0" y1="454.6" x2="97.7" y2="462.5" stroke="#e0e0e0" stroke-width="2.0" stroke-dasharray="2.0 0.7"/>
<line x1="50.4" y1="451.9" x2="50.9" y2="458.9" stroke="#e0e0e0" stroke-width="1.3" stroke-dasharray="1.4 0.6"/>
<line x1="47.0" y1="468.1" x2="49.6" y2="463.1" stroke="#ececec" stroke-width="1.6" stroke-dasharray="2.3 0.9"/>
<line x1="76.1" y1="467.8" x2="83.6" y2="466.9" stroke="#ececec" stroke-width="1.3" stroke-dasharray="1.1 0.5"/>
<line x1="110.9" y1="459.8" x2="110.8" y2="463.1" stroke="#e7e7e7" stroke-width="1.6" stroke-dasharray="2.5 0.4"/>
<line x1="20.5" y1="452.2" x2="23.6" y2="458.5" stroke="#f4f4f4" stroke-width="1.0" stroke-dasharray="1.9 0.5"/>
<line x1="108.1" y1="464.3" x2="110.8" y2="459.8" stroke="#e2e2e2" stroke-width="1.0" stroke-dasharray="2.1 0.4"/>
<line x1="7.4" y1="475.0" x2="12.0" y2="468.0" stroke="#e2e2e2" stroke-width="1.4" stroke-dasharray="2.0 1.0"/>
<line x1="17.4" y1="455.1" x2="21.0" y2="444.9" stroke="#d4d4d4" stroke-width="1.4" stroke-dasharray="1.6 1.0"/>
<line x1="17.7" y1="458.6" x2="22.4" y2="451.7" stroke="#e2e2e2" stroke-width="1.4" stroke-dasharray="2.1 0.4"/>
<line x1="7.1" y1="470.6" x2="14.9" y2="476.3" stroke="#dcdcdc" stroke-width="1.0" stroke-dasharray="1.4 0.5"/>
<line x1="22.4" y1="463.9" x2="26.1" y2="458.4" stroke="#dcdcdc" stroke-width="1.4" stroke-dasharray="1.0 0.6"/>
<line x1="96.9" y1="453.7" x2="99.0" y2="449.2" stroke="#e8e8e8" stroke-width="1.4" stroke-dasharray="2.4 0.5"/>
<line x1="99.6" y1="454.5" x2="104.5" y2="447.4" stroke="#e2e2e2" stroke-width="1.4" stroke-dasharray="1.6 0.7"/>
<line x1="18.6" y1="474.5" x2="21.9" y2="467.2" stroke="#e2e2e2" stroke-width="1.4" stroke-dasharray="2.4 0.6"/>
<line x1="16.9" y1="464.6" x2="20.0" y2="469.7" stroke="#dcdcdc" stroke-width="1.0" stroke-dasharray="1.6 1.0"/>
<line x1="103.0" y1="469.6" x2="106.6" y2="462.2" stroke="#dcdcdc" stroke-width="1.4" stroke-dasharray="1.6 0.5"/>
<line x1="8.4" y1="461.8" x2="11.3" y2="454.5" stroke="#d4d4d4" stroke-width="1.0" stroke-dasharray="1.1 0.8"/>
<line x1="14.7" y1="470.7" x2="17.5" y2="464.7" stroke="#d4d4d4" stroke-width="1.4" stroke-dasharray="1.8 0.7"/>
<line x1="97.8" y1="471.2" x2="100.6" y2="462.3" stroke="#e8e8e8" stroke-width="1.4" stroke-dasharray="1.3 0.7"/>
<line x1="95.4" y1="457.8" x2="100.7" y2="460.3" stroke="#e2e2e2" stroke-width="1.4" stroke-dasharray="1.9 0.8"/>
<line x1="19.9" y1="455.6" x2="24.4" y2="457.9" stroke="#d4d4d4" stroke-width="1.4" stroke-dasharray="1.6 0.9"/>
<line x1="100.6" y1="461.2" x2="102.7" y2="456.9" stroke="#dcdcdc" stroke-width="1.0" stroke-dasharray="1.3 0.7"/>
<line x1="105.9" y1="455.2" x2="108.1" y2="451.3" stroke="#dcdcdc" stroke-width="1.4" stroke-dasharray="1.7 0.9"/>
<line x1="9.1" y1="466.4" x2="12.6" y2="461.3" stroke="#e8e8e8" stroke-width="1.0" stroke-dasharray="2.2 1.0"/>
<line x1="11.2" y1="458.9" x2="13.9" y2="454.0" stroke="#d4d4d4" stroke-width="1.0" stroke-dasharray="1.3 0.7"/>
<line x1="99.2" y1="466.4" x2="101.7" y2="460.6" stroke="#e8e8e8" stroke-width="1.0" stroke-dasharray="1.7 0.5"/>
<line x1="15.2" y1="465.0" x2="24.6" y2="470.5" stroke="#e8e8e8" stroke-width="1.4" stroke-dasharray="1.4 1.0"/>
<line x1="16.6" y1="454.0" x2="22.0" y2="445.7" stroke="#e2e2e2" stroke-width="1.4" stroke-dasharray="1.6 0.8"/>
<line x1="15.3" y1="475.5" x2="18.4" y2="467.6" stroke="#e2e2e2" stroke-width="1.0" stroke-dasharray="1.8 0.9"/>
<line x1="10.4" y1="472.0" x2="16.2" y2="463.2" stroke="#d4d4d4" stroke-width="1.4" stroke-dasharray="2.1 0.4"/>
<line x1="4.9" y1="456.4" x2="10.3" y2="459.5" stroke="#e8e8e8" stroke-width="1.4" stroke-dasharray="1.5 1.0"/>
<line x1="97.8" y1="466.4" x2="101.7" y2="459.0" stroke="#e2e2e2" stroke-width="1.0" stroke-dasharray="1.8 0.5"/>
<line x1="19.0" y1="456.0" x2="21.7" y2="448.7" stroke="#e8e8e8" stroke-width="1.4" stroke-dasharray="1.1 0.5"/>
<line x1="108.2" y1="454.5" x2="110.9" y2="450.0" stroke="#d4d4d4" stroke-width="1.4" stroke-dasharray="1.2 0.6"/>
<line x1="10.0" y1="457.2" x2="14.8" y2="459.6" stroke="#e8e8e8" stroke-width="1.0" stroke-dasharray="2.4 0.5"/>
<line x1="98.1" y1="458.5" x2="102.4" y2="460.6" stroke="#e2e2e2" stroke-width="1.4" stroke-dasharray="1.3 0.9"/>
<line x1="102.9" y1="460.6" x2="105.6" y2="456.8" stroke="#d4d4d4" stroke-width="1.4" stroke-dasharray="1.7 0.7"/>
<line x1="9.2" y1="458.8" x2="12.6" y2="451.7" stroke="#e8e8e8" stroke-width="1.0" stroke-dasharray="2.3 0.4"/>
<line x1="103.2" y1="462.2" x2="107.5" y2="465.2" stroke="#d4d4d4" stroke-width="1.0" stroke-dasharray="2.4 0.5"/>
<line x1="12.7" y1="468.1" x2="15.6" y2="458.3" stroke="#dcdcdc" stroke-width="1.0" stroke-dasharray="1.4 0.9"/>
<line x1="12.9" y1="476.3" x2="15.7" y2="471.3" stroke="#d4d4d4" stroke-width="1.4" stroke-dasharray="1.3 0.4"/>
<line x1="6.8" y1="453.9" x2="16.1" y2="458.7" stroke="#d4d4d4" stroke-width="1.4" stroke-dasharray="1.0 0.8"/>
<line x1="10.8" y1="454.4" x2="12.4" y2="449.0" stroke="#e8e8e8" stroke-width="1.0" stroke-dasharray="2.1 0.4"/>
<line x1="21.1" y1="459.6" x2="26.0" y2="453.5" stroke="#e8e8e8" stroke-width="1.0" stroke-dasharray="1.5 0.9"/>
<line x1="8.2" y1="467.7" x2="15.0" y2="471.7" stroke="#dcdcdc" stroke-width="1.4" stroke-dasharray="1.2 0.4"/>
<line x1="101.2" y1="452.3" x2="103.9" y2="457.6" stroke="#dcdcdc" stroke-width="1.4" stroke-dasharray="2.1 0.8"/>
<line x1="15.5" y1="478.0" x2="19.1" y2="471.9" stroke="#d4d4d4" stroke-width="1.0" stroke-dasharray="1.3 0.6"/>
<line x1="17.8" y1="456.8" x2="23.0" y2="447.8" stroke="#e2e2e2" stroke-width="1.0" stroke-dasharray="1.3 0.9"/>
<line x1="96.9" y1="465.7" x2="103.9" y2="457.5" stroke="#e8e8e8" stroke-width="1.0" stroke-dasharray="2.1 0.9"/>
<line x1="10.6" y1="472.4" x2="14.6" y2="465.3" stroke="#e8e8e8" stroke-width="1.0" stroke-dasharray="2.0 0.8"/>
<line x1="98.3" y1="461.8" x2="101.1" y2="466.3" stroke="#dcdcdc" stroke-width="1.4" stroke-dasharray="2.0 0.6"/>
<line x1="94.8" y1="459.1" x2="98.0" y2="449.8" stroke="#e8e8e8" stroke-width="1.4" stroke-dasharray="1.9 0.9"/>
<line x1="15.1" y1="453.9" x2="17.9" y2="450.2" stroke="#e8e8e8" stroke-width="1.4" stroke-dasharray="2.2 0.6"/>
<line x1="100.1" y1="454.7" x2="105.3" y2="448.3" stroke="#d4d4d4" stroke-width="1.0" stroke-dasharray="1.6 0.9"/>
<line x1="19.2" y1="454.4" x2="21.6" y2="450.1" stroke="#dcdcdc" stroke-width="1.0" stroke-dasharray="2.2 0.5"/>
<line x1="101.5" y1="453.0" x2="105.4" y2="455.3" stroke="#dcdcdc" stroke-width="1.0" stroke-dasharray="1.3 0.8"/>
<line x1="18.4" y1="470.3" x2="22.0" y2="476.5" stroke="#dcdcdc" stroke-width="1.4" stroke-dasharray="2.0 0.4"/>
<line x1="108.3" y1="453.6" x2="110.1" y2="449.8" stroke="#dcdcdc" stroke-width="1.0" stroke-dasharray="1.7 0.7"/>
<line x1="5.1" y1="462.2" x2="13.2" y2="465.9" stroke="#e2e2e2" stroke-width="1.4" stroke-dasharray="2.0 0.9"/>
<line x1="11.5" y1="456.6" x2="14.9" y2="446.7" stroke="#dcdcdc" stroke-width="1.4" stroke-dasharray="1.1 1.0"/>
<line x1="14.9" y1="471.4" x2="18.5" y2="467.0" stroke="#e8e8e8" stroke-width="1.4" stroke-dasharray="1.0 0.7"/>
<line x1="107.0" y1="469.4" x2="109.8" y2="465.5" stroke="#d4d4d4" stroke-width="1.0" stroke-dasharray="1.8 0.5"/>
<line x1="99.2" y1="459.5" x2="103.2" y2="451.3" stroke="#e2e2e2" stroke-width="1.0" stroke-dasharray="1.4 0.7"/>
<line x1="94.1" y1="454.0" x2="97.6" y2="458.9" stroke="#dcdcdc" stroke-width="1.4" stroke-dasharray="2.0 0.9"/>
<line x1="97.1" y1="462.4" x2="102.3" y2="471.4" stroke="#e8e8e8" stroke-width="1.0" stroke-dasharray="1.5 0.5"/>
<line x1="107.4" y1="455.9" x2="113.3" y2="447.3" stroke="#d4d4d4" stroke-width="1.4" stroke-dasharray="1.9 0.4"/>
<line x1="7.8" y1="468.6" x2="16.1" y2="473.7" stroke="#e8e8e8" stroke-width="1.0" stroke-dasharray="1.2 0.7"/>
<line x1="12.3" y1="455.1" x2="15.6" y2="460.0" stroke="#dcdcdc" stroke-width="1.0" stroke-dasharray="1.3 0.7"/>
<line x1="8.6" y1="465.0" x2="13.4" y2="459.1" stroke="#e8e8e8" stroke-width="1.0" stroke-dasharray="1.3 0.6"/>
<line x1="15.0" y1="474.5" x2="17.1" y2="470.9" stroke="#d4d4d4" stroke-width="1.0" stroke-dasharray="1.3 0.5"/>
<line x1="110.2" y1="458.2" x2="113.1" y2="463.5" stroke="#e2e2e2" stroke-width="1.4" stroke-dasharray="2.1 0.9"/>
<line x1="22.6" y1="465.9" x2="25.8" y2="458.0" stroke="#d4d4d4" stroke-width="1.0" stroke-dasharray="2.2 0.7"/>
<line x1="100.2" y1="463.1" x2="105.2" y2="453.8" stroke="#e2e2e2" stroke-width="1.0" stroke-dasharray="1.9 0.7"/>
<line x1="6.5" y1="458.6" x2="11.4" y2="450.3" stroke="#d4d4d4" stroke-width="1.0" stroke-dasharray="2.0 0.7"/>
<line x1="17.8" y1="460.0" x2="20.9" y2="454.8" stroke="#e8e8e8" stroke-width="1.4" stroke-dasharray="1.7 1.0"/>
</g>
<text transform="translate(21.1 467.5) scale(0.87 1.04)" font-size="23" style="fill:#595959;stroke:#595959;stroke-width:0.55px" vector-effect="non-scaling-stroke">SM</text>
<text transform="translate(62.7 467.5) scale(0.58 1.04)" font-size="23" style="fill:#595959;stroke:#595959;stroke-width:0.8px" vector-effect="non-scaling-stroke">de<tspan dx="2.2">l</tspan></text>
<text transform="translate(83.2 467.5) scale(1.02 1.04)" font-size="23" style="fill:#646464;stroke:#646464;stroke-width:0.1px" vector-effect="non-scaling-stroke">S</text>
<g fill="none" stroke="#ff2a0a" stroke-linejoin="round" stroke-linecap="round">
<circle cx="56.1" cy="466.0" r="4.3" stroke-width="2.6" fill="#fff"/>
<path d="M52.4 469.6 L46.4 474.3" stroke-width="1.9"/>
<path d="M59.8 469.6 Q63.6 471.0 65.9 474.2" stroke-width="1.9"/>
<path d="M46.4 474.3 l-1.1 -1.0 l-1.1 1.7 l-1.1 -1.7 l-1.1 1.7 l-1.1 -1.7 l-1.1 1.7 l-1.1 -1.7 l-1.0 0.9" stroke-width="1.1"/>
<path d="M65.9 474.2 l1.1 -1.0 l1.1 1.8 l1.1 -1.7 l1.1 1.8 l1.1 -1.7 l1.1 1.8 l1.1 -1.7 l0.9 1.2" stroke-width="1.1"/>
</g>
</g>
<defs><linearGradient id="cb" x1="0" y1="1" x2="0" y2="0"><stop offset="0.00" stop-color="#006400"/><stop offset="0.01" stop-color="#006600"/><stop offset="0.02" stop-color="#006900"/><stop offset="0.03" stop-color="#006b00"/><stop offset="0.04" stop-color="#006d00"/><stop offset="0.05" stop-color="#006f00"/><stop offset="0.06" stop-color="#007200"/><stop offset="0.07" stop-color="#007400"/><stop offset="0.08" stop-color="#007700"/><stop offset="0.09" stop-color="#007a00"/><stop offset="0.10" stop-color="#007c00"/><stop offset="0.11" stop-color="#007e00"/><stop offset="0.12" stop-color="#018101"/><stop offset="0.13" stop-color="#128f12"/><stop offset="0.14" stop-color="#1e981e"/><stop offset="0.15" stop-color="#2fa62f"/><stop offset="0.16" stop-color="#3aaf3a"/><stop offset="0.17" stop-color="#4bbc4b"/><stop offset="0.18" stop-color="#5cca5c"/><stop offset="0.19" stop-color="#67d367"/><stop offset="0.20" stop-color="#78e178"/><stop offset="0.21" stop-color="#83ea83"/><stop offset="0.22" stop-color="#94f894"/><stop offset="0.23" stop-color="#9dfb9b"/><stop offset="0.24" stop-color="#a7fba1"/><stop offset="0.25" stop-color="#b1fba7"/><stop offset="0.26" stop-color="#b8fbab"/><stop offset="0.27" stop-color="#c3fbb1"/><stop offset="0.28" stop-color="#cafab5"/><stop offset="0.29" stop-color="#d4fabb"/><stop offset="0.30" stop-color="#dbfac0"/><stop offset="0.31" stop-color="#e5fac6"/><stop offset="0.32" stop-color="#ecfaca"/><stop offset="0.33" stop-color="#f7fad0"/><stop offset="0.34" stop-color="#faf4ce"/><stop offset="0.35" stop-color="#f9efca"/><stop offset="0.36" stop-color="#f8e6c4"/><stop offset="0.37" stop-color="#f8e0c1"/><stop offset="0.38" stop-color="#f7d8bb"/><stop offset="0.39" stop-color="#f7d2b7"/><stop offset="0.40" stop-color="#f6c9b1"/><stop offset="0.41" stop-color="#f6c3ad"/><stop offset="0.42" stop-color="#f5bba8"/><stop offset="0.43" stop-color="#f4b2a2"/><stop offset="0.44" stop-color="#f4ac9e"/><stop offset="0.45" stop-color="#f3a498"/><stop offset="0.46" stop-color="#f29e94"/><stop offset="0.47" stop-color="#f2968e"/><stop offset="0.48" stop-color="#f1908b"/><stop offset="0.49" stop-color="#f18785"/><stop offset="0.50" stop-color="#f07e7e"/><stop offset="0.51" stop-color="#f17878"/><stop offset="0.52" stop-color="#f26f6f"/><stop offset="0.53" stop-color="#f36969"/><stop offset="0.54" stop-color="#f46060"/><stop offset="0.55" stop-color="#f45a5a"/><stop offset="0.56" stop-color="#f55151"/><stop offset="0.57" stop-color="#f64b4b"/><stop offset="0.58" stop-color="#f74242"/><stop offset="0.59" stop-color="#f83939"/><stop offset="0.60" stop-color="#f93333"/><stop offset="0.61" stop-color="#fa2a2a"/><stop offset="0.62" stop-color="#fb2424"/><stop offset="0.63" stop-color="#fc1b1b"/><stop offset="0.64" stop-color="#fd1515"/><stop offset="0.65" stop-color="#fe0c0c"/><stop offset="0.66" stop-color="#fe0606"/><stop offset="0.67" stop-color="#fe0000"/><stop offset="0.68" stop-color="#fb0000"/><stop offset="0.69" stop-color="#fa0000"/><stop offset="0.70" stop-color="#f70000"/><stop offset="0.71" stop-color="#f50000"/><stop offset="0.72" stop-color="#f20000"/><stop offset="0.73" stop-color="#f10000"/><stop offset="0.74" stop-color="#ee0000"/><stop offset="0.75" stop-color="#eb0000"/><stop offset="0.76" stop-color="#e90000"/><stop offset="0.77" stop-color="#e70000"/><stop offset="0.78" stop-color="#e50000"/><stop offset="0.79" stop-color="#e20000"/><stop offset="0.80" stop-color="#e00000"/><stop offset="0.81" stop-color="#de0000"/><stop offset="0.82" stop-color="#dc0000"/><stop offset="0.83" stop-color="#d90000"/><stop offset="0.84" stop-color="#d60000"/><stop offset="0.85" stop-color="#d50000"/><stop offset="0.86" stop-color="#d20000"/><stop offset="0.87" stop-color="#d00000"/><stop offset="0.88" stop-color="#ce0000"/><stop offset="0.89" stop-color="#cc0000"/><stop offset="0.90" stop-color="#c90000"/><stop offset="0.91" stop-color="#c70000"/><stop offset="0.92" stop-color="#c40000"/><stop offset="0.93" stop-color="#c20000"/><stop offset="0.94" stop-color="#c00000"/><stop offset="0.95" stop-color="#bd0000"/><stop offset="0.96" stop-color="#bb0000"/><stop offset="0.97" stop-color="#b90000"/><stop offset="0.98" stop-color="#b70000"/><stop offset="0.99" stop-color="#b40000"/><stop offset="1.00" stop-color="#b20000"/></linearGradient></defs>
<g shape-rendering="crispEdges">
<rect x="80" y="417" width="27" height="10" fill="#e40000"/>
<rect x="80" y="406" width="27" height="11" fill="#fb1e1e"/>
<rect x="80" y="396" width="27" height="10" fill="#d80000"/>
<rect x="80" y="385" width="27" height="11" fill="#fe0606"/>
<rect x="80" y="374" width="27" height="11" fill="#f07e7e"/>
<rect x="107" y="396" width="26" height="10" fill="#ff0000"/>
<rect x="107" y="385" width="26" height="11" fill="#fa2727"/>
<rect x="107" y="374" width="26" height="11" fill="#f93333"/>
<rect x="107" y="364" width="26" height="10" fill="#ff0000"/>
<rect x="107" y="353" width="26" height="11" fill="#f07e7e"/>
<rect x="133" y="374" width="27" height="11" fill="#f64b4b"/>
<rect x="133" y="364" width="27" height="10" fill="#f26c6c"/>
<rect x="133" y="353" width="27" height="11" fill="#f08483"/>
<rect x="133" y="343" width="27" height="10" fill="#f3a498"/>
<rect x="133" y="332" width="27" height="11" fill="#dbfac0"/>
<rect x="160" y="353" width="27" height="11" fill="#f18d89"/>
<rect x="160" y="343" width="27" height="10" fill="#f3a498"/>
<rect x="160" y="332" width="27" height="11" fill="#f6c9b1"/>
<rect x="160" y="322" width="27" height="10" fill="#f8e3c3"/>
<rect x="160" y="311" width="27" height="11" fill="#a0fb9d"/>
<rect x="187" y="332" width="26" height="11" fill="#f4b2a2"/>
<rect x="187" y="322" width="26" height="10" fill="#f7d5b9"/>
<rect x="187" y="311" width="26" height="11" fill="#ecfaca"/>
<rect x="187" y="300" width="26" height="11" fill="#cdfab7"/>
<rect x="187" y="290" width="26" height="10" fill="#a0fb9d"/>
<rect x="213" y="311" width="27" height="11" fill="#f8e3c3"/>
<rect x="213" y="300" width="27" height="11" fill="#e2fac4"/>
<rect x="213" y="290" width="27" height="10" fill="#d7fabe"/>
<rect x="213" y="279" width="27" height="11" fill="#a7fba1"/>
<rect x="213" y="269" width="27" height="10" fill="#007c00"/>
<rect x="240" y="290" width="27" height="10" fill="#dbfac0"/>
<rect x="240" y="279" width="27" height="11" fill="#9dfb9b"/>
<rect x="240" y="269" width="27" height="10" fill="#5cca5c"/>
<rect x="240" y="258" width="27" height="11" fill="#a0fb9d"/>
<rect x="240" y="248" width="27" height="10" fill="#189318"/>
<rect x="267" y="269" width="26" height="10" fill="#a7fba1"/>
<rect x="267" y="258" width="26" height="11" fill="#83ea83"/>
<rect x="267" y="248" width="26" height="10" fill="#78e178"/>
<rect x="267" y="237" width="26" height="11" fill="#128f12"/>
<rect x="267" y="227" width="26" height="10" fill="#007c00"/>
<rect x="293" y="248" width="27" height="10" fill="#7ee67e"/>
<rect x="293" y="237" width="27" height="11" fill="#56c656"/>
<rect x="293" y="227" width="27" height="10" fill="#3fb33f"/>
<rect x="293" y="216" width="27" height="11" fill="#2fa62f"/>
<rect x="293" y="205" width="27" height="11" fill="#007400"/>
<rect x="320" y="227" width="27" height="10" fill="#56c656"/>
<rect x="320" y="216" width="27" height="11" fill="#34aa34"/>
<rect x="320" y="205" width="27" height="11" fill="#018101"/>
<rect x="320" y="195" width="27" height="10" fill="#007e00"/>
<rect x="320" y="184" width="27" height="11" fill="#007200"/>
<rect x="347" y="205" width="26" height="11" fill="#34aa34"/>
<rect x="347" y="195" width="26" height="10" fill="#34aa34"/>
<rect x="347" y="184" width="26" height="11" fill="#189318"/>
<rect x="347" y="174" width="26" height="10" fill="#007e00"/>
<rect x="347" y="163" width="26" height="11" fill="#006c00"/>
<rect x="373" y="184" width="27" height="11" fill="#29a129"/>
<rect x="373" y="174" width="27" height="10" fill="#078607"/>
<rect x="373" y="163" width="27" height="11" fill="#007e00"/>
<rect x="373" y="153" width="27" height="10" fill="#007e00"/>
<rect x="373" y="142" width="27" height="11" fill="#007e00"/>
<rect x="400" y="163" width="27" height="11" fill="#078607"/>
<rect x="400" y="153" width="27" height="10" fill="#007f00"/>
<rect x="400" y="142" width="27" height="11" fill="#007e00"/>
<rect x="400" y="132" width="27" height="10" fill="#007e00"/>
<rect x="400" y="121" width="27" height="11" fill="#007e00"/>
<rect x="427" y="142" width="27" height="11" fill="#007e00"/>
<rect x="427" y="132" width="27" height="10" fill="#007e00"/>
<rect x="427" y="121" width="27" height="11" fill="#007e00"/>
<rect x="427" y="110" width="27" height="11" fill="#007e00"/>
<rect x="427" y="100" width="27" height="10" fill="#007e00"/>
<rect x="454" y="121" width="26" height="11" fill="#007e00"/>
<rect x="454" y="110" width="26" height="11" fill="#007e00"/>
<rect x="454" y="100" width="26" height="10" fill="#007e00"/>
<rect x="454" y="89" width="26" height="11" fill="#007e00"/>
<rect x="454" y="79" width="26" height="10" fill="#007e00"/>
<rect x="480" y="89" width="27" height="11" fill="#007e00"/>
<rect x="480" y="79" width="27" height="10" fill="#007e00"/>
<rect x="480" y="68" width="27" height="11" fill="#007e00"/>
<rect x="480" y="58" width="27" height="10" fill="#006800"/>
<rect x="507" y="58" width="27" height="10" fill="#006800"/>
</g>
<clipPath id="axclip"><rect x="80.00" y="57.60" width="453.60" height="369.60"/></clipPath>
<g clip-path="url(#axclip)" fill="none" stroke-linejoin="round">
<path d="M84.40 363.75 C85.75 362.61 90.11 358.88 92.50 356.90 C94.89 354.92 96.67 353.20 98.75 351.90 C100.83 350.60 102.92 349.79 105.00 349.10 C107.08 348.41 109.17 348.10 111.25 347.75 C113.33 347.40 114.38 347.16 117.50 347.00 C120.62 346.84 126.35 346.98 130.00 346.80 C133.65 346.62 136.58 346.35 139.40 345.90 C142.22 345.45 144.57 344.80 146.90 344.10 C149.23 343.40 151.22 342.37 153.40 341.70 C155.58 341.03 158.12 340.44 160.00 340.10 C161.88 339.76 163.37 339.58 164.70 339.65 C166.03 339.72 167.10 340.00 168.00 340.50 C168.90 341.00 169.63 341.75 170.10 342.65 C170.57 343.55 170.77 344.57 170.80 345.90 C170.83 347.22 170.62 348.88 170.30 350.60 C169.98 352.33 169.53 354.37 168.90 356.25 C168.28 358.13 167.33 360.02 166.55 361.90 C165.77 363.77 164.84 365.87 164.20 367.50 C163.56 369.13 163.05 370.32 162.70 371.70 C162.35 373.08 162.13 374.42 162.10 375.80 C162.07 377.18 162.15 378.68 162.50 380.00 C162.85 381.32 163.48 382.57 164.20 383.75 C164.92 384.93 166.37 386.54 166.80 387.10" stroke="#000" stroke-width="2.08" stroke-linecap="square"/>
<path d="M86.90 380.90 C87.67 380.38 89.98 378.77 91.50 377.75 C93.02 376.73 94.48 375.77 96.00 374.75 C97.52 373.73 99.06 372.64 100.60 371.60 C102.14 370.56 103.68 369.43 105.25 368.50 C106.82 367.57 108.33 366.75 110.00 366.00 C111.67 365.25 113.48 364.50 115.25 364.00 C117.02 363.50 118.81 363.21 120.60 363.00 C122.39 362.79 124.18 362.75 126.00 362.75 C127.82 362.75 129.68 362.79 131.50 363.00 C133.32 363.21 135.13 363.53 136.90 364.00 C138.67 364.47 140.45 365.08 142.10 365.80 C143.75 366.52 145.35 367.22 146.80 368.30 C148.25 369.38 149.64 370.83 150.80 372.30 C151.96 373.77 152.82 375.52 153.75 377.10 C154.68 378.68 155.39 380.23 156.40 381.80 C157.41 383.37 159.05 385.45 159.80 386.50 C160.55 387.55 160.72 387.83 160.90 388.10" stroke="#000" stroke-width="2.08" stroke-dasharray="2.08 3.44" stroke-dashoffset="0.3"/>
<polyline points="96.90,421.00 95.00,411.00 122.50,400.00 121.90,389.75 148.20,379.70 148.20,368.90 174.75,358.10 174.60,347.30 201.80,336.70 200.50,318.60 173.75,324.20 172.60,326.10 154.10,336.60 146.30,339.60 146.50,347.90 119.00,358.50 116.90,369.75 93.50,379.10" stroke="#00f" stroke-width="2.08" stroke-linecap="square"/>
<polyline points="150.00,343.50 151.25,343.10 158.70,340.90 166.70,338.75 174.20,335.00 181.80,330.70 188.50,326.50 195.60,321.90 198.50,320.00" stroke="#00f" stroke-width="2.08" stroke-dasharray="2.7 5.15"/>
<polygon points="210.8,316.3 227.7,311.2 227.7,316.9" stroke="#00f" stroke-width="2.08"/>
<polyline points="206.2,315.6 227.5,311" stroke="#00f" stroke-width="2.08" stroke-dasharray="2.08 3.44"/>
</g>
<rect x="80.50" y="58.50" width="453.00" height="369.00" fill="none" stroke="#000" stroke-width="1.1"/>
<line x1="84.50" y1="427.50" x2="84.50" y2="432.66" stroke="#000" stroke-width="1.1"/>
<text x="83.95" y="447.6" font-size="13.89" letter-spacing="-0.7" text-anchor="middle">100</text>
<line x1="173.50" y1="427.50" x2="173.50" y2="432.66" stroke="#000" stroke-width="1.1"/>
<text x="172.89" y="447.6" font-size="13.89" letter-spacing="-0.7" text-anchor="middle">150</text>
<line x1="262.50" y1="427.50" x2="262.50" y2="432.66" stroke="#000" stroke-width="1.1"/>
<text x="261.83" y="447.6" font-size="13.89" letter-spacing="-0.7" text-anchor="middle">200</text>
<line x1="351.50" y1="427.50" x2="351.50" y2="432.66" stroke="#000" stroke-width="1.1"/>
<text x="350.77" y="447.6" font-size="13.89" letter-spacing="-0.7" text-anchor="middle">250</text>
<line x1="440.50" y1="427.50" x2="440.50" y2="432.66" stroke="#000" stroke-width="1.1"/>
<text x="439.71" y="447.6" font-size="13.89" letter-spacing="-0.7" text-anchor="middle">300</text>
<line x1="529.50" y1="427.50" x2="529.50" y2="432.66" stroke="#000" stroke-width="1.1"/>
<text x="528.65" y="447.6" font-size="13.89" letter-spacing="-0.7" text-anchor="middle">350</text>
<line x1="75.34" y1="415.50" x2="80.50" y2="415.50" stroke="#000" stroke-width="1.1"/>
<text x="69.4" y="420.16" font-size="13.89" letter-spacing="-0.3" text-anchor="end">50</text>
<line x1="75.34" y1="344.50" x2="80.50" y2="344.50" stroke="#000" stroke-width="1.1"/>
<text x="69.4" y="349.76" font-size="13.89" letter-spacing="-0.3" text-anchor="end">100</text>
<line x1="75.34" y1="274.50" x2="80.50" y2="274.50" stroke="#000" stroke-width="1.1"/>
<text x="69.4" y="280.36" font-size="13.89" letter-spacing="-0.3" text-anchor="end">150</text>
<line x1="75.34" y1="204.50" x2="80.50" y2="204.50" stroke="#000" stroke-width="1.1"/>
<text x="69.4" y="208.96" font-size="13.89" letter-spacing="-0.3" text-anchor="end">200</text>
<line x1="75.34" y1="133.50" x2="80.50" y2="133.50" stroke="#000" stroke-width="1.1"/>
<text x="69.4" y="138.56" font-size="13.89" letter-spacing="-0.3" text-anchor="end">250</text>
<line x1="75.34" y1="63.50" x2="80.50" y2="63.50" stroke="#000" stroke-width="1.1"/>
<text x="69.4" y="68.16" font-size="13.89" letter-spacing="-0.3" text-anchor="end">300</text>
<text x="306.0" y="467.1" font-size="13.89" letter-spacing="-0.14" text-anchor="middle">x [GeV]</text>
<text transform="translate(34.5 243.6) rotate(-90)" font-size="13.89" text-anchor="middle">y [GeV]</text>
<text x="306.4" y="49.3" font-size="16.67" letter-spacing="-0.05" text-anchor="middle">ATLAS-SUSY-2018-05-ewk (combined)</text>
<rect x="336.50" y="65.20" width="190.20" height="86.70" rx="2.8" fill="#fff" fill-opacity="0.8" stroke="#ccc" stroke-opacity="0.8" stroke-width="1.39"/>
<line x1="341.0" y1="76.00" x2="368.7" y2="76.00" stroke="#000" stroke-width="2.08" stroke-linecap="square"/>
<text x="379.9" y="82.30" font-size="13.89">exclusion (official)</text>
<line x1="341.0" y1="96.60" x2="368.7" y2="96.60" stroke="#000" stroke-width="2.08" stroke-dasharray="2.08 3.44"/>
<text x="379.9" y="102.10" font-size="13.89">exp. excl. (official)</text>
<line x1="341.0" y1="118.00" x2="368.7" y2="118.00" stroke="#00f" stroke-width="2.08" stroke-linecap="square"/>
<text x="379.9" y="123.00" font-size="13.89">exclusion (SModelS)</text>
<line x1="341.0" y1="138.80" x2="368.7" y2="138.80" stroke="#00f" stroke-width="2.08" stroke-dasharray="2.08 3.44"/>
<text x="379.9" y="143.90" font-size="13.89">exp. excl. (SModelS)</text>
<rect x="553.50" y="58.50" width="19.00" height="369.00" fill="url(#cb)"/>
<rect x="553.50" y="58.50" width="19.00" height="369.00" fill="none" stroke="#000" stroke-width="1.1"/>
<line x1="572.50" y1="427.50" x2="577.66" y2="427.50" stroke="#000" stroke-width="1.1"/>
<text x="581.9" y="433.3" font-size="13.89" letter-spacing="-0.7">0.0</text>
<line x1="572.50" y1="366.50" x2="577.66" y2="366.50" stroke="#000" stroke-width="1.1"/>
<text x="581.9" y="371.3" font-size="13.89" letter-spacing="-0.7">0.5</text>
<line x1="572.50" y1="304.50" x2="577.66" y2="304.50" stroke="#000" stroke-width="1.1"/>
<text x="581.8" y="310.3" font-size="13.89" letter-spacing="-0.7">1.0</text>
<line x1="572.50" y1="242.50" x2="577.66" y2="242.50" stroke="#000" stroke-width="1.1"/>
<text x="581.8" y="248.3" font-size="13.89" letter-spacing="-0.7">1.5</text>
<line x1="572.50" y1="181.50" x2="577.66" y2="181.50" stroke="#000" stroke-width="1.1"/>
<text x="580.9" y="186.3" font-size="13.89" letter-spacing="-0.7">2.0</text>
<line x1="572.50" y1="119.50" x2="577.66" y2="119.50" stroke="#000" stroke-width="1.1"/>
<text x="580.9" y="125.3" font-size="13.89" letter-spacing="-0.7">2.5</text>
<line x1="572.50" y1="58.50" x2="577.66" y2="58.50" stroke="#000" stroke-width="1.1"/>
<text x="580.9" y="63.3" font-size="13.89" letter-spacing="-0.7">3.0</text>
<g transform="translate(620 286) rotate(-90)">
<text font-size="13.89" y="-0.98"><tspan x="0" font-style="oblique">r</tspan><tspan x="8.42">=</tspan><tspan x="22.76" font-style="oblique">σ</tspan><tspan x="31.56" dy="2.28" font-size="9.72" font-style="oblique">signal</tspan><tspan x="60.69" dy="-2.28">/</tspan><tspan x="65.38" font-style="oblique">σ</tspan><tspan x="74.18" dy="2.28" font-size="9.72" font-style="oblique">UL</tspan></text>
</g>
<text font-size="12.5"><tspan x="20.10" y="15.20">TChiWZoff: </tspan><tspan x="93.00" y="15.20" font-style="oblique">pp</tspan><tspan x="111.30" y="15.20">→</tspan><tspan x="124.20" y="15.20" font-style="oblique">χ</tspan><tspan x="126.40" y="15.25">˜</tspan><tspan x="131.90" y="10.30" font-size="8.75">±</tspan><tspan x="132.20" y="18.60" font-size="8.75">1</tspan><tspan x="138.70" y="15.20" font-style="oblique">χ</tspan><tspan x="140.90" y="15.25">˜</tspan><tspan x="147.00" y="9.70" font-size="8.75">0</tspan><tspan x="147.00" y="18.60" font-size="8.75">2</tspan><tspan x="152.90" y="15.20">,</tspan><tspan x="160.90" y="15.20" font-style="oblique">χ</tspan><tspan x="163.10" y="15.25">˜</tspan><tspan x="168.80" y="10.30" font-size="8.75">±</tspan><tspan x="169.00" y="18.60" font-size="8.75">1</tspan><tspan x="175.30" y="15.20" font-style="oblique">χ</tspan><tspan x="177.50" y="15.25">˜</tspan><tspan x="183.30" y="9.70" font-size="8.75">0</tspan><tspan x="183.30" y="18.60" font-size="8.75">2</tspan><tspan x="192.10" y="15.20">→</tspan><tspan x="204.60" y="15.20" font-style="oblique">W</tspan><tspan x="219.10" y="15.20">*</tspan><tspan x="227.90" y="15.20" font-style="oblique">Z</tspan><tspan x="238.30" y="15.20">*</tspan><tspan x="248.00" y="15.20" font-style="oblique">χ</tspan><tspan x="250.20" y="15.25">˜</tspan><tspan x="255.10" y="9.70" font-size="8.75">0</tspan><tspan x="255.10" y="18.60" font-size="8.75">1</tspan><tspan x="260.60" y="15.20" font-style="oblique">χ</tspan><tspan x="262.80" y="15.25">˜</tspan><tspan x="268.80" y="9.70" font-size="8.75">0</tspan><tspan x="268.80" y="18.60" font-size="8.75">1</tspan></text>
<text font-size="12.5"><tspan x="469.20" y="15.20" letter-spacing="-0.3">x=m</tspan><tspan x="499.50" y="15.20">(</tspan><tspan x="502.85" y="15.20" font-style="oblique">χ</tspan><tspan x="505.05" y="15.25">˜</tspan><tspan x="511.35" y="10.30" font-size="8.75">±</tspan><tspan x="511.10" y="18.60" font-size="8.75">1</tspan><tspan x="522.10" y="15.20">,</tspan><tspan x="527.75" y="15.20" font-style="oblique">χ</tspan><tspan x="529.95" y="15.25">˜</tspan><tspan x="536.25" y="9.70" font-size="8.75">0</tspan><tspan x="536.25" y="18.60" font-size="8.75">2</tspan><tspan x="541.70" y="15.20">),</tspan><tspan x="554.80" y="15.20">y=m(</tspan><tspan x="589.50" y="15.20" font-style="oblique">χ</tspan><tspan x="591.70" y="15.25">˜</tspan><tspan x="597.45" y="9.70" font-size="8.75">0</tspan><tspan x="597.45" y="18.60" font-size="8.75">1</tspan><tspan x="603.00" y="15.20">)</tspan></text>
<text x="620.3" y="468.4" font-size="13.89" text-anchor="end">pyhf combining 2 SRs: SROffSh*, ...</text>
</svg></body></html>
